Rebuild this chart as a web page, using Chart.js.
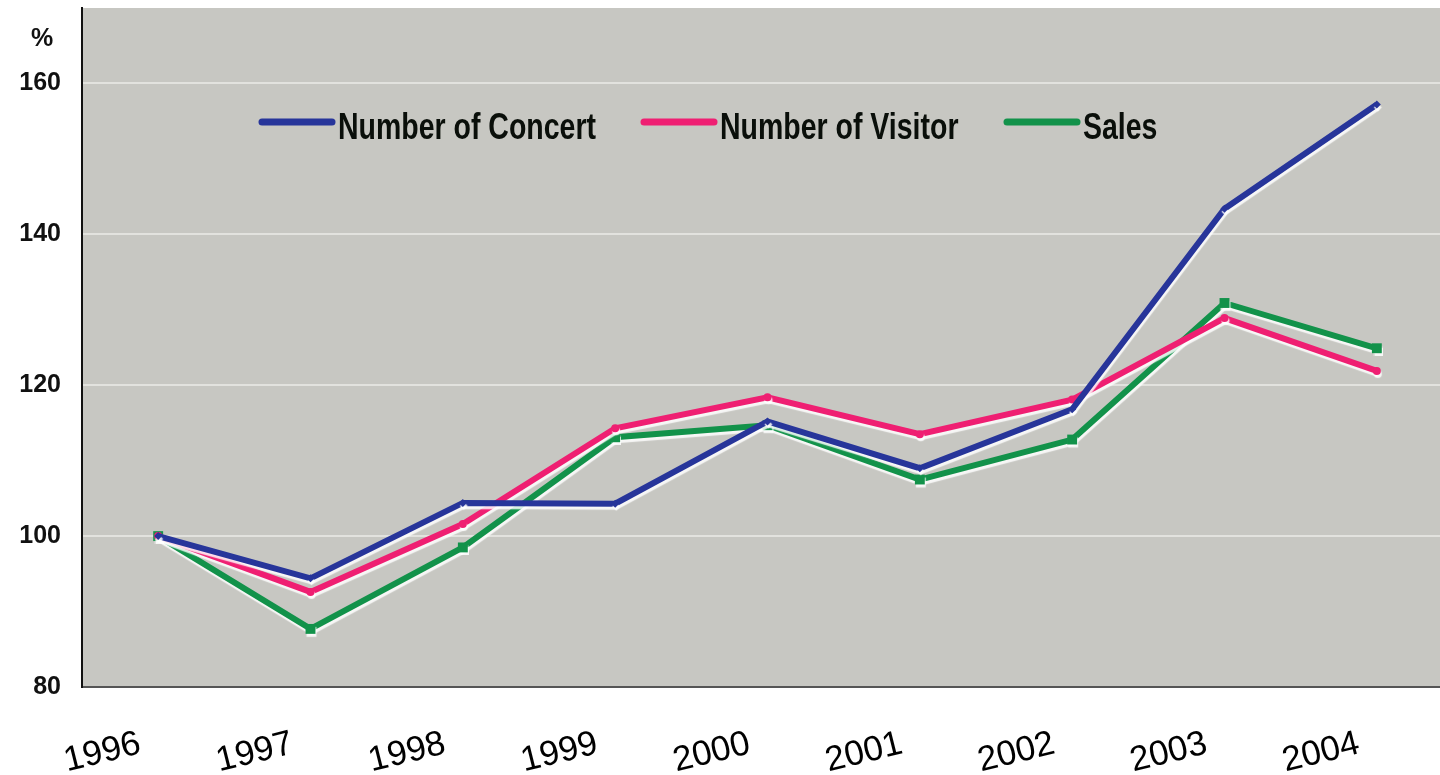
<!DOCTYPE html>
<html lang="en">
  <head>
    <meta charset="UTF-8" />
    <title>Concert index</title>
    <script src="https://cdn.jsdelivr.net/npm/chart.js"></script>
    <style>
      html, body { margin: 0; padding: 0; background: #fff; overflow: hidden; }
      #wrap { width: 1460px; height: 775px; position: relative; }
    </style>
    <script>
      var years = ["1996", "1997", "1998", "1999", "2000", "2001", "2002", "2003", "2004"];
      var concerts = [100, 94.4, 104.4, 104.3, 115.2, 109.0, 116.8, 143.4, 157.2];
      var visitors = [100, 92.6, 101.6, 114.3, 118.4, 113.5, 118.1, 128.9, 121.9];
      var sales = [100, 87.7, 98.5, 113.1, 114.7, 107.5, 112.8, 130.9, 124.9];
      var yTicks = [80, 100, 120, 140, 160];
    </script>
  </head>
  <body>
    <div id="wrap">
      <canvas id="myChart"></canvas>
    </div>
    <script>
      // lines get a light edge underneath, like the scanned print
      var lineShadow = {
        id: "lineShadow",
        beforeDatasetDraw: function (chart) {
          var ctx = chart.ctx;
          ctx.save();
          ctx.shadowColor = "rgba(255,255,255,0.85)";
          ctx.shadowOffsetX = 1;
          ctx.shadowOffsetY = 3;
          ctx.shadowBlur = 1;
        },
        afterDatasetDraw: function (chart) {
          chart.ctx.restore();
        },
      };

      // grey plot background
      var plotBg = {
        id: "plotBg",
        beforeDraw: function (chart) {
          var a = chart.chartArea;
          var ctx = chart.ctx;
          ctx.save();
          ctx.fillStyle = "#c7c7c2";
          ctx.fillRect(a.left, a.top, a.right - a.left, a.bottom - a.top);
          ctx.restore();
        },
      };

      // legend sits inside the plot, plus the "%" unit
      var innerLegend = {
        id: "innerLegend",
        afterDraw: function (chart) {
          var ctx = chart.ctx;
          var starts = [262, 644, 1007];
          ctx.save();
          ctx.font = "bold 36px 'Liberation Sans', Arial, sans-serif";
          ctx.textBaseline = "alphabetic";
          var sx = 258 / ctx.measureText("Number of Concert").width;
          chart.data.datasets.forEach(function (ds, i) {
            var x = starts[i];
            ctx.strokeStyle = ds.borderColor;
            ctx.lineWidth = 7;
            ctx.lineCap = "round";
            ctx.beginPath();
            ctx.moveTo(x, 122);
            ctx.lineTo(x + 70, 122);
            ctx.stroke();
            ctx.save();
            ctx.translate(x + 76, 139);
            ctx.scale(sx, 1);
            ctx.fillStyle = "#0a0f0a";
            ctx.fillText(ds.label, 0, 0);
            ctx.restore();
          });
          ctx.font = "bold 25px 'Liberation Sans', Arial, sans-serif";
          ctx.fillStyle = "#111";
          ctx.textAlign = "center";
          ctx.fillText("%", 42, 46);
          ctx.restore();
        },
      };

      var ctx = document.getElementById("myChart").getContext("2d");
      var myChart = new Chart(ctx, {
        type: "line",
        data: {
          labels: years,
          datasets: [
            {
              label: "Number of Concert",
              data: concerts,
              borderColor: "#27359a",
              backgroundColor: "#27359a",
              borderWidth: 6,
              pointStyle: "rectRot",
              pointRadius: 4,
              pointBorderWidth: 0,
              tension: 0,
            },
            {
              label: "Number of Visitor",
              data: visitors,
              borderColor: "#ef1f72",
              backgroundColor: "#ef1f72",
              borderWidth: 6,
              pointStyle: "circle",
              pointRadius: 4,
              pointBorderWidth: 0,
              tension: 0,
            },
            {
              label: "Sales",
              data: sales,
              borderColor: "#12924a",
              backgroundColor: "#12924a",
              borderWidth: 6,
              pointStyle: "rect",
              pointRadius: 7,
              pointBorderWidth: 0,
              tension: 0,
            },
          ],
        },
        options: {
          responsive: true,
          maintainAspectRatio: false,
          animation: false,
          layout: { padding: { top: 8, left: 0, right: 0, bottom: 0 } },
          plugins: {
            legend: { display: false },
            tooltip: { enabled: false },
          },
          scales: {
            x: {
              offset: true,
              grid: { display: false, drawTicks: false },
              border: { display: true, color: "#555", width: 2 },
              ticks: {
                autoSkip: false,
                minRotation: 14,
                maxRotation: 14,
                padding: 36,
                labelOffset: -18,
                color: "#000",
                font: { family: "'Liberation Sans', Arial, sans-serif", size: 35 },
              },
              afterFit: function (scale) {
                scale.height = 88;
                scale.paddingLeft = 0;
                scale.paddingRight = 0;
              },
            },
            y: {
              min: 80,
              max: 170,
              afterBuildTicks: function (scale) {
                scale.ticks = yTicks.map(function (v) {
                  return { value: v };
                });
              },
              grid: { color: "#e2e2de", lineWidth: 2, drawTicks: false },
              border: { display: true, color: "#111", width: 2 },
              ticks: {
                padding: 21,
                color: "#111",
                font: { family: "'Liberation Sans', Arial, sans-serif", size: 25, weight: "bold" },
              },
              afterFit: function (scale) {
                scale.width = 82;
                scale.paddingTop = 0;
                scale.paddingBottom = 0;
              },
            },
          },
        },
        plugins: [plotBg, lineShadow, innerLegend],
      });
    </script>
  </body>
</html>
